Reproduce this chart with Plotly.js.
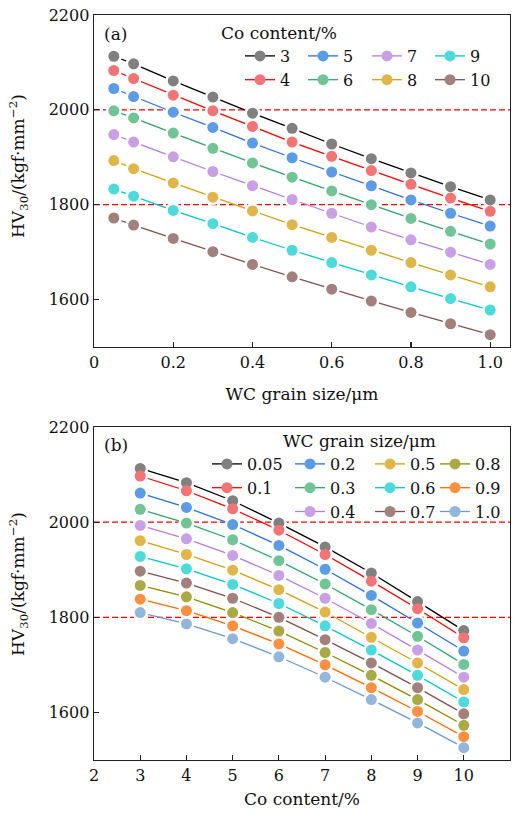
<!DOCTYPE html>
<html><head><meta charset="utf-8">
<script src="https://cdn.plot.ly/plotly-3.0.1.min.js"></script>
<style>html,body{margin:0;padding:0;background:#fff}</style>
</head><body><div id="chart" style="width:519px;height:814px"></div>
<script>
// ---- data ----
const grainSizes = [0.05, 0.1, 0.2, 0.3, 0.4, 0.5, 0.6, 0.7, 0.8, 0.9, 1.0];
const grainLabels = ['0.05', '0.1', '0.2', '0.3', '0.4', '0.5', '0.6', '0.7', '0.8', '0.9', '1.0'];
const coContents = [3, 4, 5, 6, 7, 8, 9, 10];
const coLabels = ['3', '4', '5', '6', '7', '8', '9', '10'];
const hvCo3  = [2113, 2097, 2061, 2027, 1993, 1961, 1928, 1897, 1867, 1838, 1810];
const hvCo4  = [2083, 2066, 2031, 1998, 1965, 1932, 1902, 1872, 1843, 1814, 1786];
const hvCo5  = [2045, 2028, 1995, 1963, 1930, 1899, 1869, 1840, 1810, 1782, 1755];
const hvCo6  = [1998, 1983, 1951, 1919, 1888, 1858, 1829, 1800, 1771, 1744, 1717];
const hvCo7  = [1948, 1932, 1901, 1870, 1840, 1811, 1782, 1753, 1726, 1700, 1674];
const hvCo8  = [1893, 1876, 1846, 1816, 1787, 1758, 1731, 1704, 1678, 1652, 1627];
const hvCo9  = [1833, 1818, 1788, 1760, 1731, 1704, 1678, 1652, 1627, 1602, 1578];
const hvCo10 = [1772, 1757, 1729, 1701, 1674, 1648, 1622, 1597, 1573, 1549, 1526];
const hvRows = [hvCo3, hvCo4, hvCo5, hvCo6, hvCo7, hvCo8, hvCo9, hvCo10];
const thresholds = [2000, 1800];
const topTickVals = [0, 0.2, 0.4, 0.6, 0.8, 1.0];
const topTickText = ['0', '0.2', '0.4', '0.6', '0.8', '1.0'];
const yTickVals = [1600, 1800, 2000, 2200];

// ---- styles ----
const markerColors = ['#808080', '#f27474', '#5c9be6', '#70c496', '#c9a0e6', '#e0b64a', '#4ddada', '#a2817d', '#aaaa44', '#ff9040', '#94b6dc'];
const lineColors   = ['#000000', '#ff0000', '#2a6fe0', '#2ea66a', '#b47ce4', '#d4a010', '#00c8cc', '#84524a', '#8c8c00', '#ff6a00', '#6a9ad4'];
const topLegendOf = ['legend', 'legend', 'legend2', 'legend2', 'legend3', 'legend3', 'legend4', 'legend4'];
const botLegendOf = ['legend5', 'legend5', 'legend6', 'legend6', 'legend6', 'legend7', 'legend7', 'legend7', 'legend8', 'legend8', 'legend8'];
const FONT = 'DejaVu Serif';
const MS = 11, HALO = 16;

const lineTraces = [], haloTraces = [], markTraces = [];
function addSeries(x, y, name, ci, xa, ya, leg) {
  lineTraces.push({x: x, y: y, name: name, type: 'scatter', mode: 'lines+markers', xaxis: xa, yaxis: ya,
    legend: leg, line: {color: lineColors[ci], width: 1.3},
    marker: {color: markerColors[ci], size: MS}, hoverinfo: 'skip'});
  haloTraces.push({x: x, y: y, type: 'scatter', mode: 'markers', xaxis: xa, yaxis: ya, showlegend: false,
    marker: {color: '#ffffff', size: HALO}, hoverinfo: 'skip'});
  markTraces.push({x: x, y: y, type: 'scatter', mode: 'markers', xaxis: xa, yaxis: ya, showlegend: false,
    marker: {color: markerColors[ci], size: MS}, hoverinfo: 'skip'});
}
hvRows.forEach((row, i) => addSeries(grainSizes, row, coLabels[i], i, 'x', 'y', topLegendOf[i]));
grainSizes.forEach((g, j) => addSeries(coContents, hvRows.map(r => r[j]), grainLabels[j], j, 'x2', 'y2', botLegendOf[j]));
const traces = lineTraces.concat(haloTraces, markTraces);

const W = 519, H = 814, ML = 94, MR = 9, MT = 15, MB = 54;
const PW = W - ML - MR, PH = H - MT - MB;
const px = v => (v - ML) / PW;
const py = v => (H - MB - v) / PH;

const axBase = {showgrid: false, zeroline: false, showline: true, mirror: true, linecolor: '#222', linewidth: 1.4,
  ticks: 'inside', ticklen: 5, tickcolor: '#222', tickwidth: 1.2,
  tickfont: {family: FONT, size: 16, color: '#111'}};
function legendAt(x, y) {
  return {x: px(x), y: py(y), xanchor: 'left', yanchor: 'top', bgcolor: 'rgba(0,0,0,0)', borderwidth: 0,
    font: {family: FONT, size: 16, color: '#111'}, itemwidth: 30, tracegroupgap: 0, itemclick: false};
}

const shapes = [];
thresholds.forEach(t => {
  ['x', 'x2'].forEach((xa, k) => {
    shapes.push({type: 'line', xref: xa + ' domain', yref: k ? 'y2' : 'y', x0: 0, x1: 1, y0: t, y1: t,
      line: {color: '#ff0000', width: 1.3, dash: '6px,3px'}, layer: 'below'});
  });
});

const layout = {
  width: W, height: H, paper_bgcolor: '#fff', plot_bgcolor: '#fff',
  margin: {l: ML, r: MR, t: MT, b: MB, autoexpand: false},
  font: {family: FONT, color: '#111'},
  xaxis: Object.assign({}, axBase, {domain: [0, 1], anchor: 'y', range: [0, 1.05], tickvals: topTickVals, ticktext: topTickText,
    title: {text: 'WC grain size/μm', font: {family: FONT, size: 17}, standoff: 17}}),
  yaxis: Object.assign({}, axBase, {domain: [py(347), 1], anchor: 'x', range: [1500, 2200], tickvals: yTickVals}),
  xaxis2: Object.assign({}, axBase, {domain: [0, 1], anchor: 'y2', range: [2, 11], dtick: 1, tick0: 2,
    title: {text: 'Co content/%', font: {family: FONT, size: 17}, standoff: 9}}),
  yaxis2: Object.assign({}, axBase, {domain: [0, py(427)], anchor: 'x2', range: [1500, 2200], tickvals: yTickVals}),
  legend: legendAt(240, 39), legend2: legendAt(303, 39), legend3: legendAt(367, 39), legend4: legendAt(430, 39),
  legend5: legendAt(207, 447), legend6: legendAt(290, 447), legend7: legendAt(370, 447), legend8: legendAt(435, 447),
  shapes: shapes,
  annotations: [
    {text: '(a)', xref: 'paper', yref: 'paper', x: px(102), y: py(34), xanchor: 'left', yanchor: 'middle', showarrow: false, font: {family: FONT, size: 17}},
    {text: '(b)', xref: 'paper', yref: 'paper', x: px(102), y: py(445), xanchor: 'left', yanchor: 'middle', showarrow: false, font: {family: FONT, size: 17}},
    {text: 'Co content/%', xref: 'paper', yref: 'paper', x: px(279), y: py(33), xanchor: 'center', yanchor: 'middle', showarrow: false, font: {family: FONT, size: 17}},
    {text: 'WC grain size/μm', xref: 'paper', yref: 'paper', x: px(359), y: py(441), xanchor: 'center', yanchor: 'middle', showarrow: false, font: {family: FONT, size: 17}},
    {text: 'HV<sub>30</sub>/(kgf·mm<sup>−2</sup>)', xref: 'paper', yref: 'paper', x: px(18), y: py(166), xanchor: 'center', yanchor: 'middle', textangle: -90, showarrow: false, font: {family: FONT, size: 17}},
    {text: 'HV<sub>30</sub>/(kgf·mm<sup>−2</sup>)', xref: 'paper', yref: 'paper', x: px(18), y: py(584), xanchor: 'center', yanchor: 'middle', textangle: -90, showarrow: false, font: {family: FONT, size: 17}}
  ]
};
Plotly.newPlot('chart', traces, layout, {displayModeBar: false, staticPlot: true});
</script></body></html>
